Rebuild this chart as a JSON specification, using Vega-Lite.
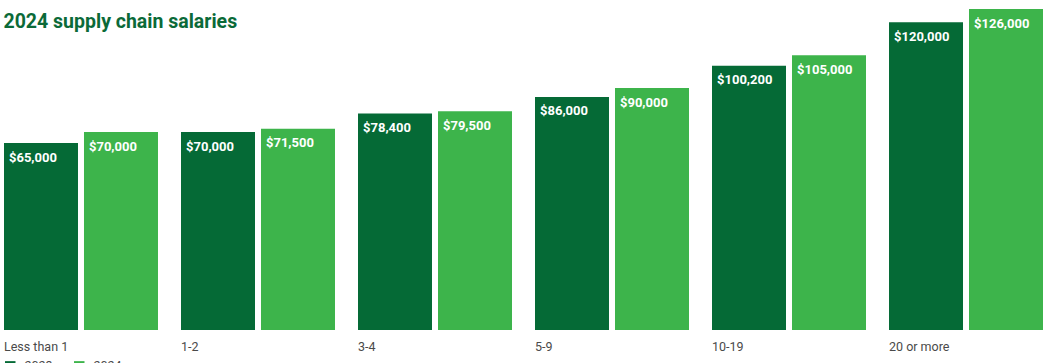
{
  "$schema": "https://vega.github.io/schema/vega-lite/v6.json",
  "width": 1039,
  "height": 330,
  "autosize": {"type": "none"},
  "padding": {"left": 4, "right": 6, "top": 0, "bottom": 33},
  "background": "white",
  "view": {"stroke": null},
  "title": {
    "text": "2024 supply chain salaries",
    "anchor": "start",
    "orient": "top",
    "offset": 0,
    "dy": 47,
    "dx": 0,
    "baseline": "alphabetic",
    "font": "Roboto",
    "fontSize": 19.5,
    "fontWeight": "bold",
    "color": "#0b6a38"
  },
  "data": {
    "values": [
      {"tenure": "Less than 1", "year": "2023", "salary": 65000},
      {"tenure": "Less than 1", "year": "2024", "salary": 70000},
      {"tenure": "1-2", "year": "2023", "salary": 70000},
      {"tenure": "1-2", "year": "2024", "salary": 71500},
      {"tenure": "3-4", "year": "2023", "salary": 78400},
      {"tenure": "3-4", "year": "2024", "salary": 79500},
      {"tenure": "5-9", "year": "2023", "salary": 86000},
      {"tenure": "5-9", "year": "2024", "salary": 90000},
      {"tenure": "10-19", "year": "2023", "salary": 100200},
      {"tenure": "10-19", "year": "2024", "salary": 105000},
      {"tenure": "20 or more", "year": "2023", "salary": 120000},
      {"tenure": "20 or more", "year": "2024", "salary": 126000}
    ]
  },
  "encoding": {
    "x": {
      "field": "tenure",
      "type": "nominal",
      "sort": ["Less than 1", "1-2", "3-4", "5-9", "10-19", "20 or more"],
      "scale": {"paddingInner": 0.13, "paddingOuter": 0},
      "axis": {
        "title": null,
        "domain": false,
        "ticks": false,
        "labelAlign": "left",
        "labelBaseline": "top",
        "labelOffset": -77,
        "labelPadding": 10,
        "labelFont": "Roboto",
        "labelFontSize": 12.5,
        "labelColor": "#4a4a4a",
        "labelAngle": 0
      }
    },
    "xOffset": {
      "field": "year",
      "type": "nominal",
      "scale": {"paddingInner": 0.075, "paddingOuter": 0}
    },
    "y": {
      "field": "salary",
      "type": "quantitative",
      "scale": {"domain": [-20120, 130100], "nice": false, "zero": false},
      "axis": null
    }
  },
  "layer": [
    {
      "mark": {"type": "bar"},
      "encoding": {
        "y2": {"datum": -20120},
        "color": {
          "field": "year",
          "type": "nominal",
          "scale": {"domain": ["2023", "2024"], "range": ["#056a36", "#3db44b"]},
          "legend": {
            "title": null,
            "orient": "none",
            "legendX": 0,
            "legendY": 360,
            "direction": "horizontal",
            "symbolType": "square",
            "symbolSize": 110,
            "labelFont": "Roboto",
            "labelFontSize": 12.5,
            "labelColor": "#4a4a4a",
            "labelOffset": 8,
            "columnPadding": 20
          }
        }
      }
    },
    {
      "mark": {
        "type": "text",
        "align": "left",
        "baseline": "middle",
        "dx": -32,
        "dy": 14.5,
        "font": "Roboto",
        "fontSize": 13,
        "fontWeight": "bold",
        "color": "white"
      },
      "encoding": {
        "text": {"field": "salary", "type": "quantitative", "format": "$,.0f"}
      }
    }
  ]
}
